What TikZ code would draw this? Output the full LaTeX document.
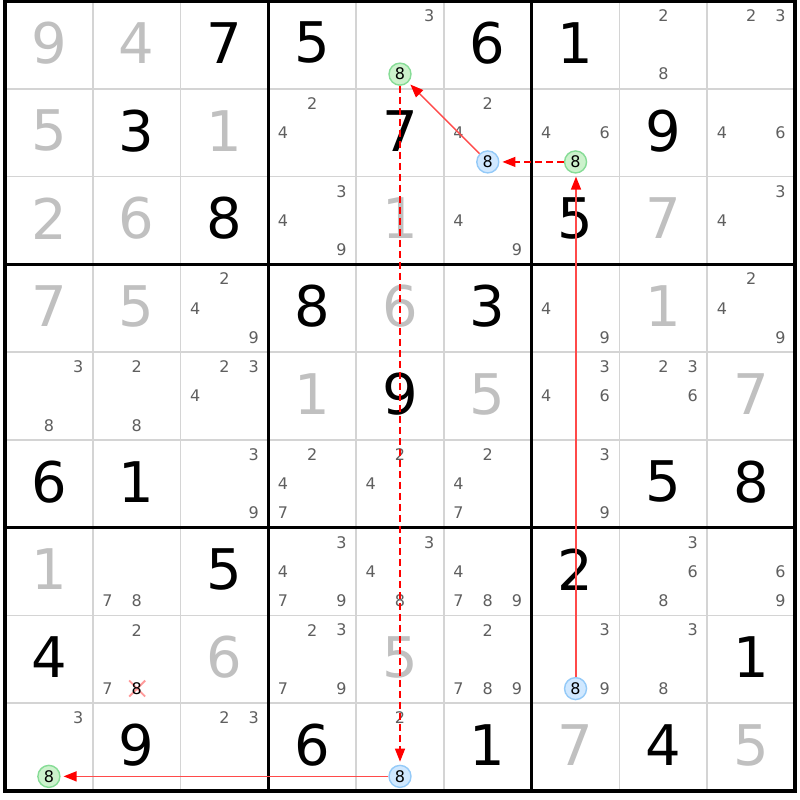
\documentclass[tikz,border=0pt]{standalone}
\usepackage{fontspec}
\setmainfont{DejaVu Sans}
\usetikzlibrary{arrows.meta}
\definecolor{solvedc}{HTML}{C0C0C0}
\definecolor{candc}{HTML}{5F5F5F}
\definecolor{thinc}{HTML}{D4D4D4}
\definecolor{gfill}{HTML}{CCF2CC}
\definecolor{gline}{HTML}{86DC96}
\definecolor{bfill}{HTML}{D0E8FF}
\definecolor{bline}{HTML}{94CAF8}
\definecolor{linkred}{HTML}{FF0000}
\definecolor{solidred}{HTML}{FF4A4A}
\definecolor{xpink}{HTML}{FF9A9A}
\def\cs{87.7778}
\newcommand\Gv[3]{\node[given] (g#1#2) at ({5+(#2-0.5)*\cs},{1+(#1-0.5)*\cs-2}) {#3};}
\newcommand\Sv[3]{\node[solvedd] (g#1#2) at ({5+(#2-0.5)*\cs},{1+(#1-0.5)*\cs-2}) {#3};}
\newcommand\Cd[3]{\foreach \d in {#3}{%
  \pgfmathtruncatemacro\ci{mod(\d-1,3)}%
  \pgfmathtruncatemacro\ri{floor((\d-1)/3)}%
  \node[cand] (c#1#2\d) at ({5+(#2-1+(2*\ci+1)/6)*\cs},{1+(#1-1+(2*\ri+1)/6)*\cs}) {\d};}}
\newcommand\Ck[3]{\node[#3] (k#1#2) at ({5+(#2-0.5)*\cs},{1+(#1-1+5/6)*\cs}) {8};}
\begin{document}
\begin{tikzpicture}[x=1pt,y=-1pt,
  given/.style={font=\fontsize{56}{60}\selectfont, text=black, inner sep=0},
  solvedd/.style={font=\fontsize{56}{60}\selectfont, text=solvedc, inner sep=0},
  cand/.style={font=\fontsize{16}{17}\selectfont, text=candc, inner sep=0},
  ring/.style={circle, inner sep=0, minimum size=22pt, line width=1.4pt, font=\fontsize{16}{17}\selectfont, text=black},
  gring/.style={ring, fill=gfill, draw=gline},
  bring/.style={ring, fill=bfill, draw=bline},
  thinline/.style={draw=thinc, line width=1.6pt},
  thickline/.style={draw=black, line width=3pt},
  solidarr/.style={draw=solidred, line width=1.5pt, -{Triangle[length=13pt,width=10pt,color=linkred]}, shorten >=3pt},
  dasharr/.style={draw=linkred, line width=1.3pt, dash pattern=on 7pt off 4pt, -{Triangle[length=13pt,width=10pt]}, shorten >=3pt},
  xmark/.style={draw=xpink, line width=1.8pt}]
\useasboundingbox (0,0) rectangle (800,800);
\fill[white] (0,0) rectangle (800,800);
% thin grid lines
\foreach \i in {1,2,4,5,7,8}{
  \draw[thinline] ({5+\i*\cs},1) -- ({5+\i*\cs},791);
  \draw[thinline] (5,{1+\i*\cs}) -- (795,{1+\i*\cs});
}
\foreach \i in {3,6}{
  \draw[thickline] ({5+\i*\cs},1) -- ({5+\i*\cs},791);
  \draw[thickline] (5,{1+\i*\cs}) -- (795,{1+\i*\cs});
}
\draw[thickline, line width=3.5pt] (5,1) rectangle (795,791);
% row 1
\Sv{1}{1}{9}\Sv{1}{2}{4}\Gv{1}{3}{7}\Gv{1}{4}{5}\Cd{1}{5}{3}\Gv{1}{6}{6}\Gv{1}{7}{1}\Cd{1}{8}{2,8}\Cd{1}{9}{2,3}
% row 2
\Sv{2}{1}{5}\Gv{2}{2}{3}\Sv{2}{3}{1}\Cd{2}{4}{2,4}\Gv{2}{5}{7}\Cd{2}{6}{2,4}\Cd{2}{7}{4,6}\Gv{2}{8}{9}\Cd{2}{9}{4,6}
% row 3
\Sv{3}{1}{2}\Sv{3}{2}{6}\Gv{3}{3}{8}\Cd{3}{4}{3,4,9}\Sv{3}{5}{1}\Cd{3}{6}{4,9}\Gv{3}{7}{5}\Sv{3}{8}{7}\Cd{3}{9}{3,4}
% row 4
\Sv{4}{1}{7}\Sv{4}{2}{5}\Cd{4}{3}{2,4,9}\Gv{4}{4}{8}\Sv{4}{5}{6}\Gv{4}{6}{3}\Cd{4}{7}{4,9}\Sv{4}{8}{1}\Cd{4}{9}{2,4,9}
% row 5
\Cd{5}{1}{3,8}\Cd{5}{2}{2,8}\Cd{5}{3}{2,3,4}\Sv{5}{4}{1}\Gv{5}{5}{9}\Sv{5}{6}{5}\Cd{5}{7}{3,4,6}\Cd{5}{8}{2,3,6}\Sv{5}{9}{7}
% row 6
\Gv{6}{1}{6}\Gv{6}{2}{1}\Cd{6}{3}{3,9}\Cd{6}{4}{2,4,7}\Cd{6}{5}{2,4}\Cd{6}{6}{2,4,7}\Cd{6}{7}{3,9}\Gv{6}{8}{5}\Gv{6}{9}{8}
% row 7
\Sv{7}{1}{1}\Cd{7}{2}{7,8}\Gv{7}{3}{5}\Cd{7}{4}{3,4,7,9}\Cd{7}{5}{3,4,8}\Cd{7}{6}{4,7,8,9}\Gv{7}{7}{2}\Cd{7}{8}{3,6,8}\Cd{7}{9}{6,9}
% row 8
\Gv{8}{1}{4}\Cd{8}{2}{2,7}\Sv{8}{3}{6}\Cd{8}{4}{2,3,7,9}\Sv{8}{5}{5}\Cd{8}{6}{2,7,8,9}\Cd{8}{7}{3,9}\Cd{8}{8}{3,8}\Gv{8}{9}{1}
% row 9
\Cd{9}{1}{3}\Gv{9}{2}{9}\Cd{9}{3}{2,3}\Gv{9}{4}{6}\Cd{9}{5}{2}\Gv{9}{6}{1}\Sv{9}{7}{7}\Gv{9}{8}{4}\Sv{9}{9}{5}
% eliminated candidate
\draw[xmark] ({5+1.5*\cs-7.5},{1+7.833*\cs-8}) -- ({5+1.5*\cs+8.5},{1+7.833*\cs+8});
\draw[xmark] ({5+1.5*\cs-7.5},{1+7.833*\cs+8}) -- ({5+1.5*\cs+8.5},{1+7.833*\cs-8});
\node[cand, text=black] (x82) at ({5+1.5*\cs},{1+(7+5/6)*\cs}) {8};
% links
\Ck{1}{5}{gring}
\Ck{2}{6}{bring}
\Ck{2}{7}{gring}
\Ck{8}{7}{bring}
\Ck{9}{1}{gring}
\Ck{9}{5}{bring}
\draw[solidarr] (k95) -- (k91);
\draw[solidarr] ([xshift=0.45pt]k87.north) -- ([xshift=0.45pt]k27.south);
\draw[dasharr] (k27) -- (k26);
\draw[solidarr] (k26) -- (k15);
\draw[dasharr] (k15) -- (k95);
\end{tikzpicture}
\end{document}
